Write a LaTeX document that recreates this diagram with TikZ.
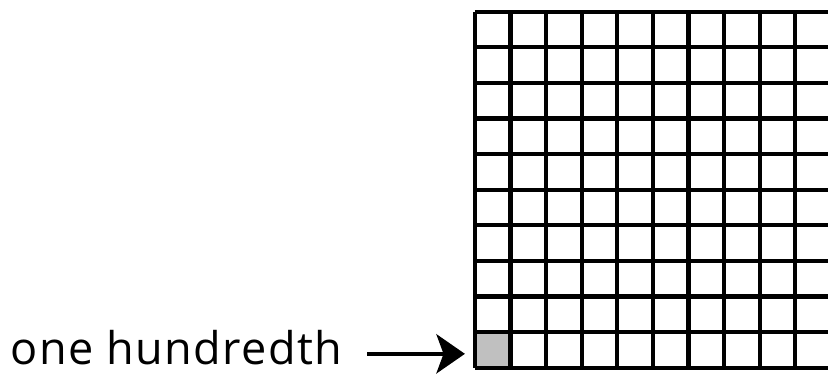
\documentclass[tikz,border=0pt]{standalone}
\usepackage{fontspec}
\setmainfont{Open Sans}[LetterSpace=3.0]
\usetikzlibrary{arrows.meta,positioning}
\definecolor{cellgray}{RGB}{192,192,192}

\begin{document}
\begin{tikzpicture}[
  gridline/.style={line width=3.4pt, black},
  hcell/.style={fill=cellgray, minimum size=1cm, inner sep=0pt, outer sep=0pt},
  arr/.style={-{Stealth[length=0.8cm, width=1.1cm, inset=0.2cm]}, line width=3.4pt},
  lbl/.style={font=\fontsize{36}{42}\selectfont, inner sep=0pt}
]
  \useasboundingbox (0,0) rectangle (23.26,10.53);
  \clip (0,0) rectangle (23.26,10.53);
  % the hundredth square, bottom left
  \node[hcell] (cell) at (13.84,0.7) {};
  \draw[gridline, shift={(13.34,0.2)}] (0,0) grid (10,10);
  \node[lbl, anchor=base west] (label) at (0.30,0.28) {one hundredth};
  \coordinate (tail) at ([yshift=0.31cm]label.base east);
  \draw[arr, shorten <=0.7cm, shorten >=0.28cm] (tail) -- (tail -| cell.west);
\end{tikzpicture}
\end{document}
